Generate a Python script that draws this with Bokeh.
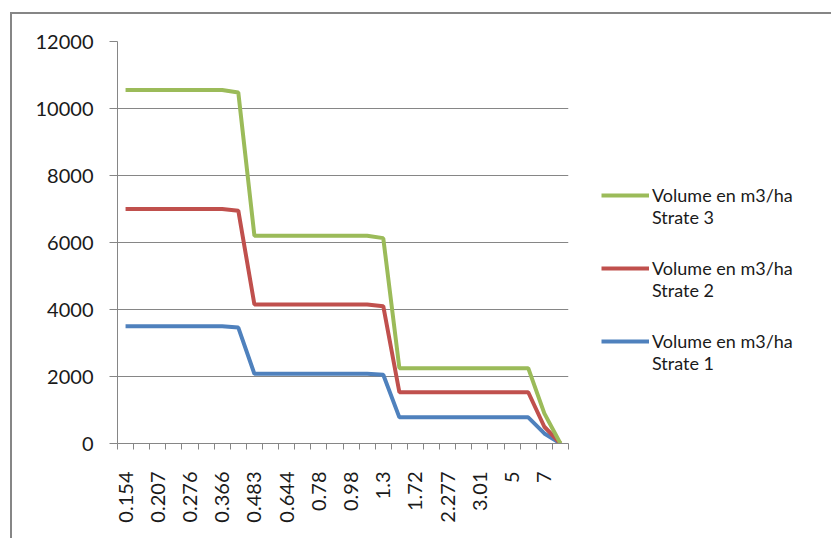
import numpy as np
from bokeh.plotting import figure
from bokeh.models import Range1d, FixedTicker, Legend, LegendItem
from bokeh.embed import file_html
from bokeh.resources import INLINE

# x-axis labels shown on every other category
tick_labels = ["0.154", "0.207", "0.276", "0.366", "0.483", "0.644", "0.78",
               "0.98", "1.3", "1.72", "2.277", "3.01", "5", "7"]

strate1 = [3500, 3500, 3500, 3500, 3500, 3500, 3500, 3460,
           2080, 2080, 2080, 2080, 2080, 2080, 2080, 2080, 2050,
           780, 780, 780, 780, 780, 780, 780, 780, 780, 300, 0]
strate2 = [7000, 7000, 7000, 7000, 7000, 7000, 7000, 6950,
           4150, 4150, 4150, 4150, 4150, 4150, 4150, 4150, 4100,
           1530, 1530, 1530, 1530, 1530, 1530, 1530, 1530, 1530, 500, 0]
strate3 = [10550, 10550, 10550, 10550, 10550, 10550, 10550, 10480,
           6200, 6200, 6200, 6200, 6200, 6200, 6200, 6200, 6130,
           2250, 2250, 2250, 2250, 2250, 2250, 2250, 2250, 2250, 900, 0]

series_names = ["Volume en m3/ha\nStrate 1", "Volume en m3/ha\nStrate 2",
                "Volume en m3/ha\nStrate 3"]
y_ticks = [0, 2000, 4000, 6000, 8000, 10000, 12000]

n = len(strate1)
x = list(range(n))

FONT = "Lato"
GRAY = "#868686"

p = figure(width=815, height=524, frame_width=451, frame_height=402,
           min_border_left=105, min_border_top=27, min_border_right=259,
           min_border_bottom=95,
           output_backend="svg", toolbar_location=None,
           x_range=Range1d(-0.5, n - 0.5), y_range=Range1d(0, 12000))
p.styles = {"margin-left": "10px", "margin-top": "12px",
            "border-left": "2px solid #868686", "border-top": "2px solid #868686"}
p.outline_line_color = None

# axes
label_pos = [i for i in x if i % 2 == 0]
p.xaxis.ticker = FixedTicker(ticks=label_pos, minor_ticks=[i - 0.5 for i in range(n + 1)])
p.xaxis.major_label_overrides = {i: tick_labels[i // 2] for i in label_pos}
p.xaxis.major_label_orientation = np.pi / 2
p.xaxis.major_tick_out = 0
p.xaxis.major_tick_in = 0
p.xaxis.minor_tick_out = 6
p.xaxis.minor_tick_in = 0
p.xaxis.minor_tick_line_color = GRAY
p.xaxis.major_label_standoff = 22

p.yaxis.ticker = FixedTicker(ticks=y_ticks)
p.yaxis.major_tick_out = 8
p.yaxis.major_tick_in = 0
p.yaxis.minor_tick_line_color = None
p.yaxis.major_label_standoff = 16
p.yaxis.major_tick_line_color = GRAY

for ax in (p.xaxis, p.yaxis):
    ax.axis_line_color = GRAY
    ax.axis_line_width = 1
    ax.major_label_text_font = FONT
    ax.major_label_text_font_size = "20px"
    ax.major_label_text_color = "#1a1a1a"

p.xgrid.grid_line_color = None
p.ygrid.grid_line_color = GRAY
p.ygrid.grid_line_width = 1

r1 = p.line(x, strate1, line_color="#4F81BD", line_width=4)
r2 = p.line(x, strate2, line_color="#C0504D", line_width=4)
r3 = p.line(x, strate3, line_color="#9BBB59", line_width=4)

# leading blank line so that the swatch sits beside the first text line
legend = Legend(items=[LegendItem(label="\n" + series_names[2], renderers=[r3]),
                       LegendItem(label="\n" + series_names[1], renderers=[r2]),
                       LegendItem(label="\n" + series_names[0], renderers=[r1])],
                location=(33, 69), orientation="vertical",
                label_text_font=FONT, label_text_font_size="18px",
                label_text_color="#1a1a1a",
                glyph_width=48, label_standoff=3, spacing=7,
                border_line_color=None, background_fill_alpha=0,
                padding=0, margin=0)
p.add_layout(legend, "right")

open("out.html", "w").write(file_html(p, INLINE))
